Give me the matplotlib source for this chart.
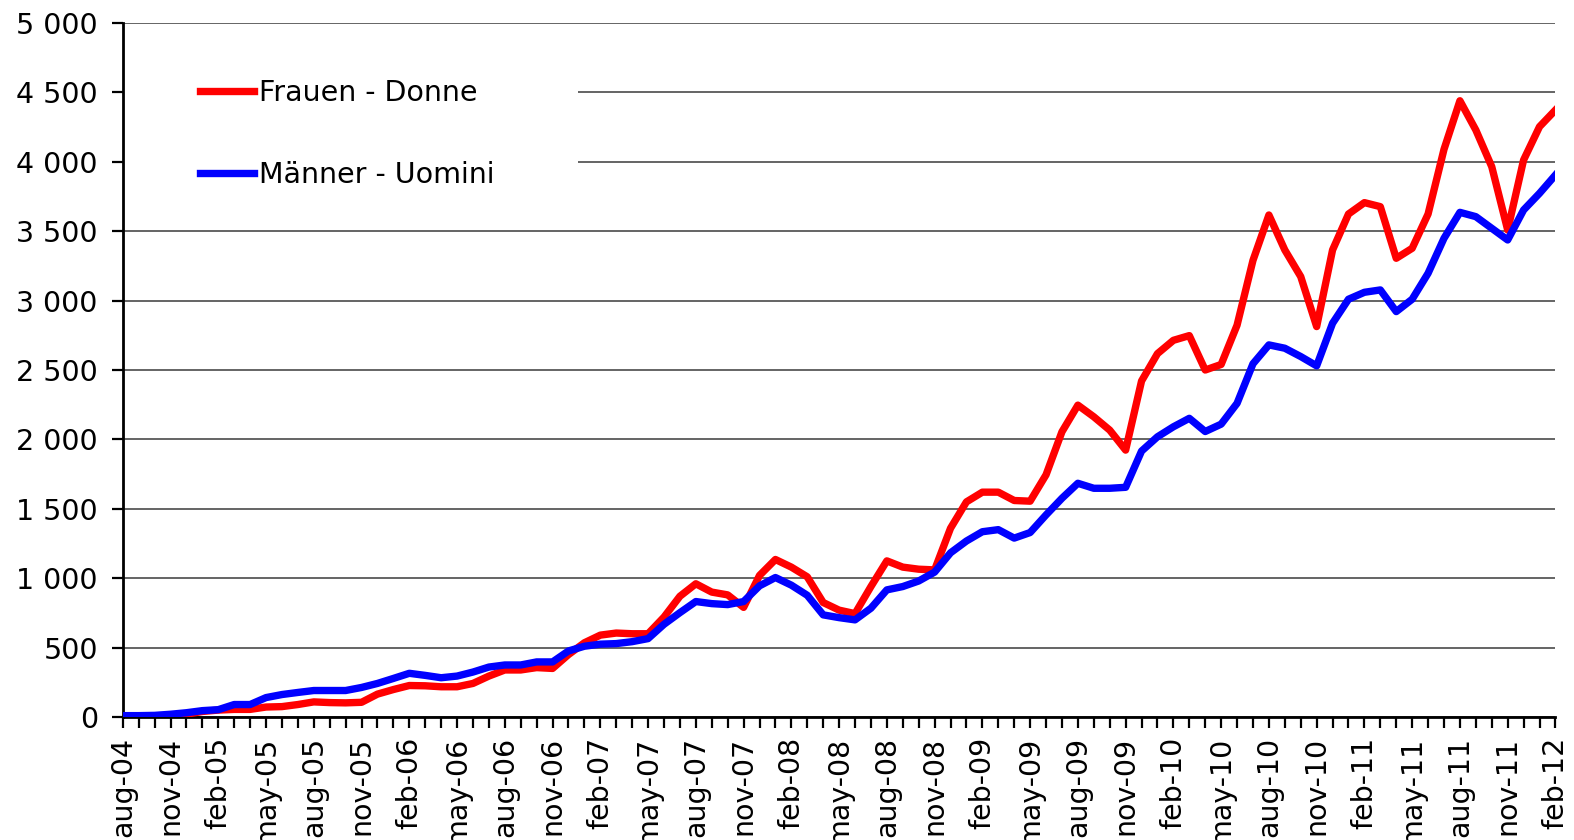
import matplotlib
matplotlib.use("Agg")
import matplotlib.pyplot as plt
from matplotlib.patches import Rectangle
from matplotlib.ticker import FuncFormatter

# monthly values, aug-04 .. feb-12
frauen = [5, 5, 5, 10, 20, 40, 50, 55, 55, 72, 75, 90, 109, 104, 102, 106,
          165, 198, 227, 225, 218, 218, 242, 295, 339, 339, 356, 350, 450, 535,
          590, 605, 600, 600, 720, 870, 960, 900, 880, 790, 1020, 1135, 1080,
          1010, 825, 770, 745, 940, 1125, 1080, 1065, 1060, 1360, 1550, 1620,
          1620, 1560, 1555, 1745, 2055, 2247, 2163, 2067, 1923, 2421, 2618, 2714,
          2748, 2500, 2540, 2823, 3290, 3617, 3365, 3173, 2813, 3365, 3624, 3706,
          3677, 3305, 3377, 3624, 4090, 4440, 4229, 3965, 3509, 4013, 4253, 4373]
maenner = [10, 10, 12, 20, 31, 46, 53, 90, 90, 140, 162, 177, 191, 191, 191,
           213, 242, 278, 315, 300, 283, 295, 324, 360, 375, 375, 397, 397, 476,
           510, 525, 529, 543, 565, 668, 752, 832, 817, 810, 832, 945, 1005, 950,
           877, 736, 716, 700, 784, 916, 940, 980, 1044, 1183, 1268, 1335, 1350,
           1289, 1329, 1456, 1576, 1684, 1648, 1648, 1655, 1916, 2019, 2091, 2152,
           2057, 2110, 2260, 2545, 2681, 2657, 2597, 2530, 2837, 3010, 3060, 3077,
           2921, 3010, 3197, 3449, 3636, 3605, 3521, 3437, 3653, 3773, 3905]
tick_labels = ["aug-04", "nov-04", "feb-05", "may-05", "aug-05", "nov-05",
               "feb-06", "may-06", "aug-06", "nov-06", "feb-07", "may-07",
               "aug-07", "nov-07", "feb-08", "may-08", "aug-08", "nov-08",
               "feb-09", "may-09", "aug-09", "nov-09", "feb-10", "may-10",
               "aug-10", "nov-10", "feb-11", "may-11", "aug-11", "nov-11",
               "feb-12"]
series_names = ["Frauen - Donne", "Männer - Uomini"]

plt.rcParams["font.family"] = ["DejaVu Sans"]

fig = plt.figure(figsize=(15.74, 8.4), dpi=100)
ax = fig.add_axes([0.078, 0.1464, 0.9102, 0.8262])

x = list(range(len(frauen)))
ax.plot(x, frauen, color="#ff0000", lw=5.3, label=series_names[0], zorder=3)
ax.plot(x, maenner, color="#0000ff", lw=5.3, label=series_names[1], zorder=3)

ax.set_xlim(0, len(frauen) - 1)
ax.set_ylim(0, 5000)
ax.set_yticks(range(0, 5001, 500))
ax.yaxis.set_major_formatter(FuncFormatter(lambda v, p: f"{int(v):,}".replace(",", " ")))
ax.set_xticks(range(0, len(frauen), 3))
ax.set_xticklabels(tick_labels, rotation=90)
ax.set_xticks(x, minor=True)

ax.set_axisbelow(True)
ax.grid(axis="y", color="#3a3a3a", lw=1.1)
for s in ["top", "right"]:
    ax.spines[s].set_visible(False)
for s in ["left", "bottom"]:
    ax.spines[s].set_linewidth(2)
ax.tick_params(axis="both", which="both", direction="out", length=8, width=1.6,
               labelsize=20.5)
ax.tick_params(axis="y", pad=10)
ax.tick_params(axis="x", pad=6)

# white area behind the legend hides the gridlines there
ax.add_patch(Rectangle((0, 0.735), 0.318, 0.225, transform=ax.transAxes,
                       facecolor="white", edgecolor="none", zorder=1))
ax.legend(loc="upper left", bbox_to_anchor=(0.0537, 0.919), frameon=False,
          fontsize=20.5, handlelength=1.9, handletextpad=0.2, labelspacing=1.9,
          borderpad=0, borderaxespad=0)

fig.savefig("out.png", dpi=100)
